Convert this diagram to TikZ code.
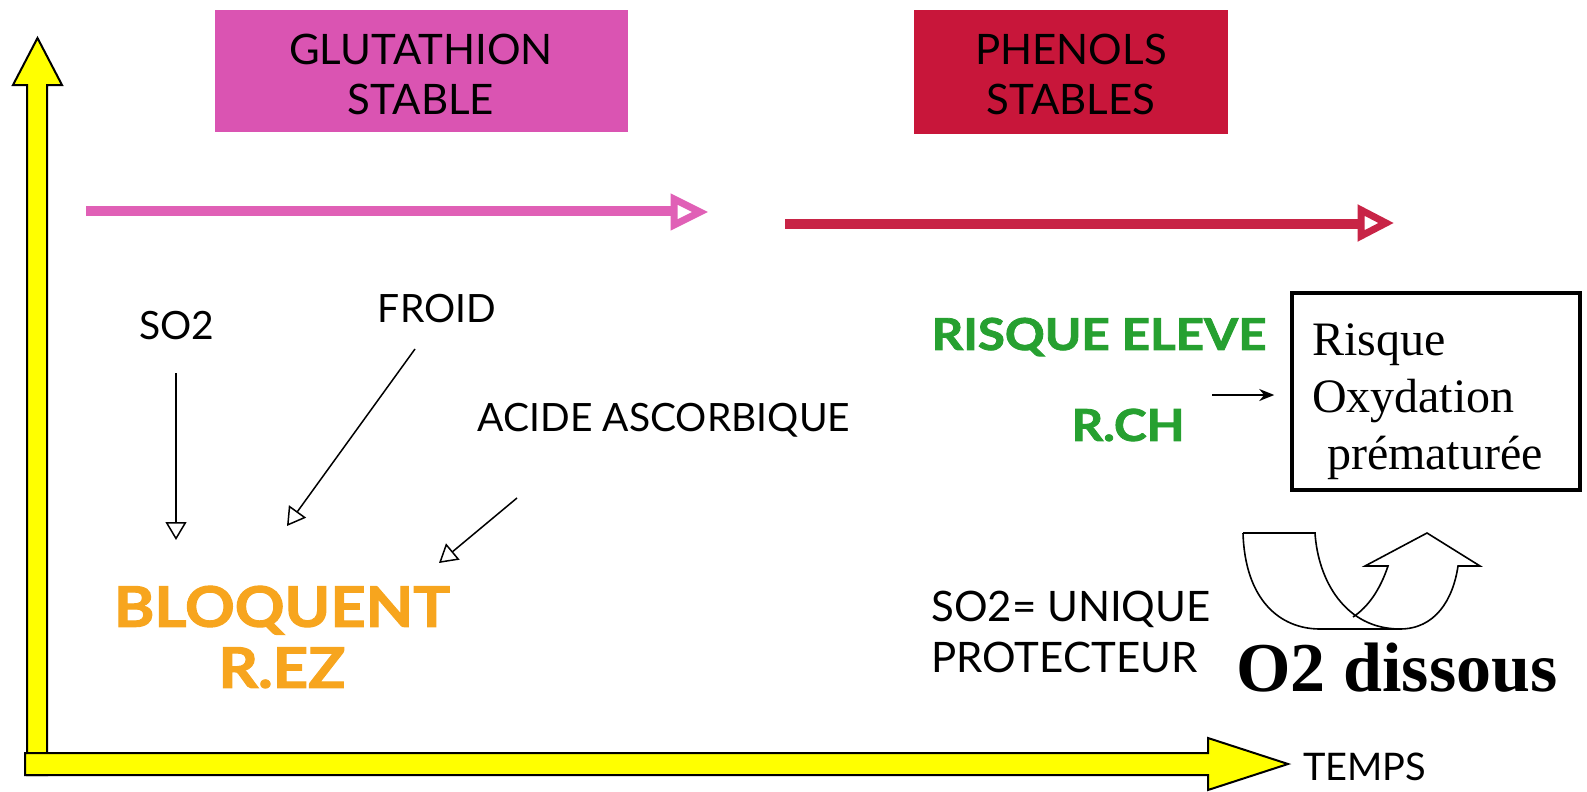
\documentclass[tikz,border=0pt]{standalone}
\usepackage{fontspec}
\usetikzlibrary{arrows.meta}
\newfontfamily\gillfont{Lato}
\newfontfamily\heavyfont{Lato}[FakeBold=1.8]
\newfontfamily\timesfont{Liberation Serif}
\definecolor{glut}{RGB}{218,84,178}
\definecolor{glutarrow}{RGB}{224,96,182}
\definecolor{phen}{RGB}{200,22,58}
\definecolor{phenarrow}{RGB}{200,36,70}
\definecolor{orng}{RGB}{247,165,30}
\definecolor{grn}{RGB}{38,160,48}
\definecolor{yel}{RGB}{255,255,0}
\tikzset{
  sans/.style={font=\gillfont\fontsize{39}{51}\selectfont, inner sep=0pt, align=center},
  titletext/.style={font=\gillfont\fontsize{42}{50}\selectfont, inner sep=0pt, align=center},
  heavy/.style={font=\heavyfont\bfseries\fontsize{56}{61}\selectfont, inner sep=0pt, align=center},
  greenheavy/.style={font=\heavyfont\bfseries\fontsize{44}{50}\selectfont, inner sep=0pt, text=grn},
  thinarrow/.style={line width=1.5pt, -{Triangle[open,length=18pt,width=21pt,line width=1.5pt]}},
  bandline/.style={line width=10pt},
  bandhead/.style={line width=7pt, line join=miter, fill=white},
  axisshape/.style={fill=yel, draw=black, line width=2pt, line join=miter},
  blackbox/.style={draw=black, line width=3.5pt, minimum width=288pt, minimum height=197pt,
     text width=248pt, inner xsep=20pt, align=left,
     font=\timesfont\fontsize{48}{57}\selectfont},
}
\begin{document}
\begin{tikzpicture}[x=1pt,y=-1pt]
\useasboundingbox (0,0) rectangle (1587,792);
% axes
\draw[axisshape] (27,775) -- (27,85) -- (13,85) -- (37.5,38) -- (62,85) -- (47,85) -- (47,775) -- cycle;
\draw[axisshape] (25,753) -- (1208,753) -- (1208,738) -- (1288,764) -- (1208,790) -- (1208,775) -- (25,775) -- cycle;
\node[inner sep=0pt, font=\gillfont\fontsize{38}{40}\selectfont, anchor=west] (temps) at (1303,767) {TEMPS};

% title boxes
\node[fill=glut, minimum width=413pt, minimum height=122pt, inner sep=0pt] (glutbox) at (421,71) {};
\node[titletext] (gluttext) at (421,74) {GLUTATHION\\STABLE};
\node[fill=phen, minimum width=314pt, minimum height=124pt, inner sep=0pt] (phenbox) at (1071,72) {};
\node[titletext] (phentext) at (1071,74) {PHENOLS\\STABLES};

% band arrows
\coordinate (ga) at (86,211);
\coordinate (gb) at (676,211);
\draw[bandline, draw=glutarrow] (ga) -- (gb);
\draw[bandhead, draw=glutarrow] (674,199) -- (700,212) -- (674,225) -- cycle;
\coordinate (pa) at (785,224);
\coordinate (pb) at (1363,224);
\draw[bandline, draw=phenarrow] (pa) -- (pb);
\draw[bandhead, draw=phenarrow] (1361,210) -- (1386,223) -- (1361,236) -- cycle;

% left labels
\node[sans] (so2) at (177,326) {SO2};
\node[sans] (froid) at (437,309) {FROID};
\node[sans] (acide) at (664,420) {ACIDE ASCORBIQUE};
\node[heavy, text=orng] (bloq) at (282,637) {\scalebox{1.1}[1]{BLOQUENT}\\\scalebox{1.1}[1]{R.EZ}};

\coordinate (so2a) at (176,373);
\coordinate (so2b) at (176,540);
\draw[thinarrow] (so2a) -- (so2b);
\coordinate (fra) at (415,349);
\coordinate (frb) at (287,526);
\draw[thinarrow] (fra) -- (frb);
\coordinate (aca) at (517,498);
\coordinate (acb) at (439,563);
\draw[thinarrow] (aca) -- (acb);

% right labels
\node[greenheavy] (risque) at (1099,337) {\scalebox{1.12}[1]{RISQUE ELEVE}};
\node[greenheavy] (rch) at (1128,425) {\scalebox{1.12}[1]{R.CH}};
\node[blackbox] (box) at (1436,391.5) {\rule{0pt}{52pt}Risque\\Oxydation\\\hspace*{15pt}prématurée};
\coordinate (sa) at (1212,395);
\draw[line width=2pt, -{Stealth[length=15pt,width=12pt]}, shorten >=16pt] (sa) -- (box.west |- sa);

\node[inner sep=0pt, font=\gillfont\fontsize{42}{51}\selectfont, align=left, anchor=west] (uniq) at (931,632) {SO2= UNIQUE\\PROTECTEUR};
\node[font=\timesfont\bfseries\fontsize{70}{80}\selectfont, inner sep=0pt] (o2) at (1397,668) {O2 dissous};

% curved arrow
\draw[line width=1.6pt, line join=miter]
  (1243,533) -- (1315,533)
  .. controls (1318,580) and (1345,629) .. (1400,629)
  .. controls (1435,629) and (1453,600) .. (1458,566)
  -- (1480,566) -- (1427,533) -- (1365,566) -- (1388,566)
  .. controls (1380,590) and (1368,607) .. (1353,617);
\draw[line width=1.6pt]
  (1243,533) .. controls (1245,600) and (1280,629) .. (1320,629) -- (1400,629);
\end{tikzpicture}
\end{document}
